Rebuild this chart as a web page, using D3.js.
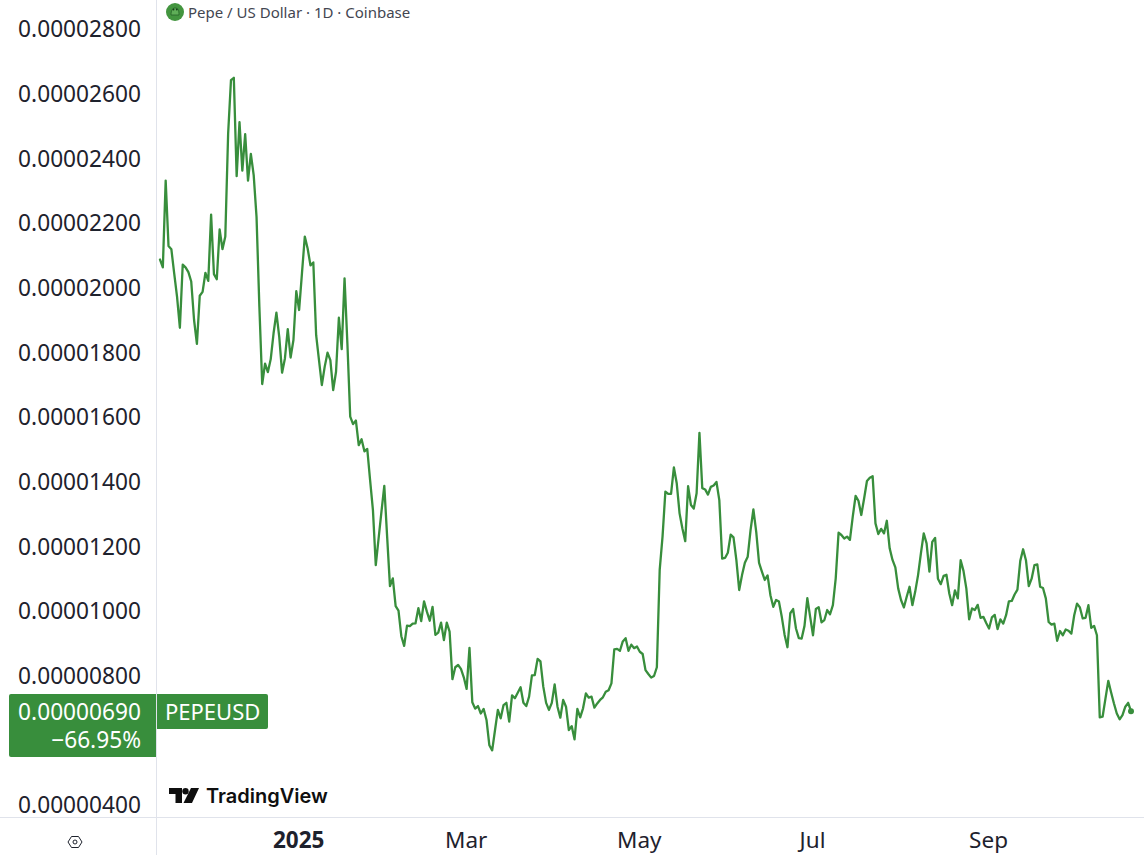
<!DOCTYPE html>
<html>
<head>
<meta charset="utf-8">
<script src="https://cdn.jsdelivr.net/npm/d3@7"></script>
<style>
html,body{margin:0;padding:0;background:#fff;overflow:hidden}
svg{display:block}
text{font-family:"Noto Sans",sans-serif}
</style>
</head>
<body>
<svg id="c" width="1144" height="855"></svg>
<script>
// Daily close, in units of 1e-8 USD, from 2024-11-13 to 2025-10-21
const startDate = "2024-11-13";
const closeE8 = [
2087,2063,2331,2129,2119,2044,1972,1876,2071,2063,2048,2019,1900,1826,1975,1987,2046,2021,2226,2042,
2026,2180,2119,2158,2477,2642,2649,2345,2512,2362,2475,2331,2414,2348,2219,1941,1702,1765,1739,1779,
1859,1923,1848,1737,1781,1872,1784,1838,1989,1931,2044,2158,2121,2069,2078,1853,1776,1699,1755,1799,
1776,1683,1740,1907,1810,2029,1828,1601,1578,1589,1513,1531,1494,1501,1405,1312,1142,1225,1307,1387,
1230,1077,1101,1015,1001,922,892,955,953,961,962,1009,969,1030,998,970,1013,926,933,964,
910,964,936,789,826,833,821,795,759,886,718,698,706,683,697,663,585,569,632,694,
668,709,716,658,739,730,747,764,716,706,735,801,802,852,844,766,716,694,716,773,
704,670,725,704,632,644,603,697,671,699,745,732,735,701,714,725,733,750,755,776,
881,883,877,906,916,877,896,885,890,874,867,817,805,794,799,826,1127,1230,1369,1362,
1362,1444,1395,1302,1255,1216,1386,1328,1317,1364,1551,1380,1376,1360,1384,1388,1399,1343,1162,1164,
1180,1236,1228,1158,1065,1111,1149,1168,1250,1314,1245,1149,1122,1096,1110,1049,1013,1034,1029,982,
926,888,993,1006,946,916,915,954,1040,982,925,1006,1012,965,972,1003,990,1018,1101,1242,
1235,1224,1230,1220,1292,1356,1341,1297,1348,1402,1412,1417,1271,1238,1254,1240,1279,1194,1158,1135,
1070,1034,1011,1044,1075,1018,1060,1111,1178,1240,1209,1122,1214,1226,1100,1083,1109,1112,1054,1018,
1064,1039,1157,1124,1070,974,1008,1003,1019,979,982,963,946,980,988,944,974,961,987,1030,
1031,1051,1066,1155,1191,1157,1077,1100,1142,1144,1075,1071,1039,966,958,961,908,938,925,943,
939,930,987,1023,1011,977,979,1018,948,954,925,671,673,729,784,748,714,683,665,678,
704,716,690
];
const yTickValues = [2800,2600,2400,2200,2000,1800,1600,1400,1200,1000,800,400];
const xTickDates = ["2025-01-01","2025-03-01","2025-05-01","2025-07-01","2025-09-01"];
const xTickLabels = ["2025","Mar","May","Jul","Sep"];
const titleText = "Pepe / US Dollar · 1D · Coinbase";
const symbolText = "PEPEUSD";
const changeText = "−66.95%";

const GREEN = "#388e3c", INK = "#1e222d", RULE = "#e0e3eb";
const svg = d3.select("#c");
const parse = d3.utcParse("%Y-%m-%d");
const day0 = parse(startDate);
const dates = closeE8.map((_, i) => d3.utcDay.offset(day0, i));

const x = d3.scaleUtc().domain([dates[0], dates[dates.length - 1]]).range([160, 1131]);
const y = d3.scaleLinear().domain([400, 2800]).range([805, 29]);
const fmt = v => (v / 1e8).toFixed(8);

// frame rules
svg.append("line").attr("x1",156.5).attr("x2",156.5).attr("y1",0).attr("y2",855).attr("stroke",RULE);
svg.append("line").attr("x1",0).attr("x2",1144).attr("y1",817.5).attr("y2",817.5).attr("stroke",RULE);

// y axis
const yAxis = d3.axisLeft(y).tickValues(yTickValues).tickFormat(fmt).tickSize(0).tickPadding(0);
const gy = svg.append("g").attr("transform","translate(141,0)").call(yAxis);
gy.select(".domain").remove();
gy.selectAll("text").attr("fill",INK).attr("font-size",22.7).attr("dy","0.35em").style("font-family",'"Noto Sans",sans-serif');

// x axis
const xAxis = d3.axisBottom(x).tickValues(xTickDates.map(parse))
  .tickFormat((d,i)=>xTickLabels[i]).tickSize(0).tickPadding(0);
const gx = svg.append("g").attr("transform","translate(-1,840)").call(xAxis);
gx.select(".domain").remove();
gx.selectAll("text").attr("y",0).attr("dy","0.35em").attr("fill",INK).attr("font-size",22.5)
  .attr("font-weight",(d,i)=>i===0?700:400).style("font-family",'"Noto Sans",sans-serif');

// price line
const line = d3.line().x((d,i)=>x(dates[i])).y(d=>y(d));
svg.append("path").datum(closeE8).attr("d",line).attr("fill","none").attr("stroke",GREEN)
  .attr("stroke-width",2.3).attr("stroke-linejoin","round").attr("stroke-linecap","round");
svg.append("circle").attr("cx",x(dates[dates.length-1])).attr("cy",y(closeE8[closeE8.length-1])).attr("r",3).attr("fill",GREEN);

// legend title with icon
const ic = svg.append("g").attr("transform","translate(175,12)");
ic.append("circle").attr("r",9).attr("fill","#43953f");
ic.append("path").attr("d","M-4,3 C-4,-2 -2,-4 0,-4 C3,-4 4,-2 4,3 Z").attr("fill","#5fae58").attr("stroke","#1f5a22").attr("stroke-width",0.7);
ic.append("circle").attr("cx",-1.5).attr("cy",-2.5).attr("r",0.9).attr("fill","#163d18");
ic.append("circle").attr("cx",1.8).attr("cy",-2.5).attr("r",0.9).attr("fill","#163d18");
svg.append("text").attr("x",188).attr("y",18).attr("font-size",15).attr("fill","#434651").text(titleText);

// last value labels
svg.append("path").attr("d","M11,694H156V757H11a2,2 0 0 1 -2,-2V696a2,2 0 0 1 2,-2Z").attr("fill",GREEN);
svg.append("path").attr("d","M157,694H266a2,2 0 0 1 2,2V727a2,2 0 0 1 -2,2H157Z").attr("fill",GREEN);
svg.append("text").attr("x",141).attr("y",712).attr("dy","0.35em").attr("text-anchor","end").attr("fill","#fff").attr("font-size",22.7).text(fmt(closeE8[closeE8.length-1]));
svg.append("text").attr("x",141).attr("y",740).attr("dy","0.35em").attr("text-anchor","end").attr("fill","#fff").attr("font-size",22.7).text(changeText);
svg.append("text").attr("x",165).attr("y",712).attr("dy","0.35em").attr("fill","#fff").attr("font-size",22).text(symbolText);

// watermark
const logo = svg.append("g").attr("transform","translate(169,788)").attr("fill","#0f0f0f");
logo.append("path").attr("d","M0,0H13V15H6.5V6H0Z");
logo.append("circle").attr("cx",16.5).attr("cy",3.2).attr("r",3.2);
logo.append("path").attr("d","M22,0H30L23,15H14.5Z");
svg.append("text").attr("x",206).attr("y",803).attr("font-size",20).attr("font-weight",600).attr("fill","#0f0f0f").style("font-family","Inter,sans-serif").text("TradingView");

// settings glyph
const g = svg.append("g").attr("transform","translate(75,842)").attr("fill","none").attr("stroke",INK).attr("stroke-width",1);
g.append("path").attr("d","M-7,0L-3.5,-5.5H3.5L7,0L3.5,5.5H-3.5Z");
g.append("circle").attr("r",2);
</script>
</body>
</html>
